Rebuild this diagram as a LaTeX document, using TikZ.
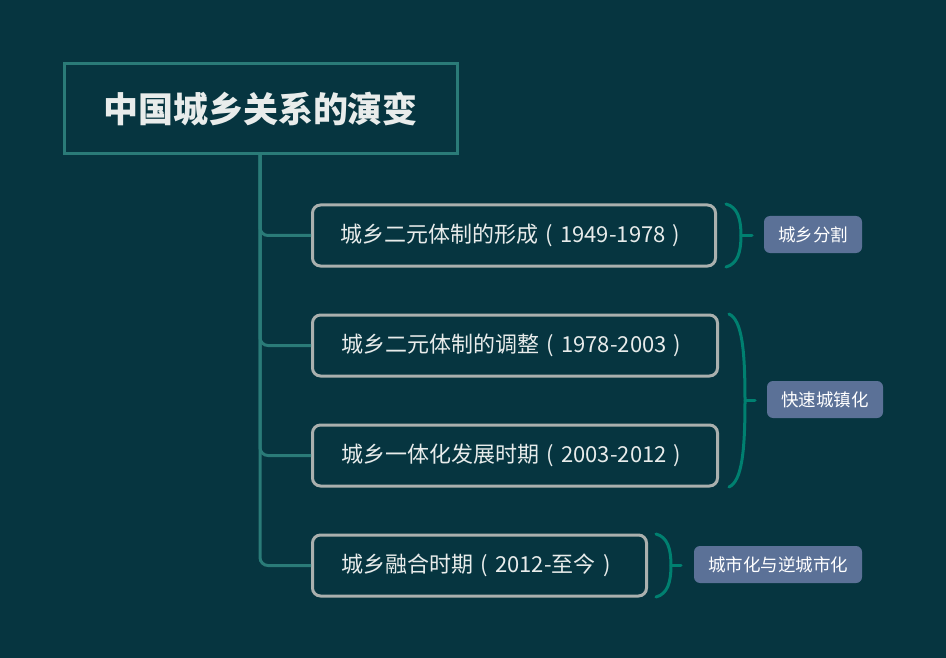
\documentclass[tikz,border=0pt]{standalone}
\usepackage{fontspec}
\setmainfont{Noto Sans CJK SC}
\definecolor{bgc}{RGB}{6,53,64}
\definecolor{titleb}{RGB}{42,123,120}
\definecolor{boxb}{RGB}{170,176,174}
\definecolor{bracec}{RGB}{0,128,112}
\definecolor{labf}{RGB}{91,113,151}
\definecolor{txt}{RGB}{232,236,235}
\newcommand\myLP{\makebox[1em][c]{(}}
\newcommand\myRP{\makebox[1em][c]{)}}
\tikzset{
  titlebox/.style={draw=titleb,line width=3pt,fill=bgc,minimum width=393pt,minimum height=90pt,inner sep=0pt,text=txt,font=\fontsize{35}{40}\selectfont\bfseries},
  stagebox/.style={draw=boxb,line width=3pt,fill=bgc,rounded corners=8pt,minimum height=61pt,inner sep=0pt,text=txt,font=\fontsize{22}{26}\selectfont,anchor=west},
  tagbox/.style={fill=labf,rounded corners=6pt,minimum height=37pt,inner sep=0pt,text=white,font=\fontsize{17.5}{20}\selectfont},
  trunk/.style={draw=titleb,line width=3pt,rounded corners=8pt},
  bracel/.style={draw=bracec,line width=3pt,line cap=round},
}
\begin{document}
\begin{tikzpicture}[x=1pt,y=-1pt]
\fill[bgc] (0,0) rectangle (946,658);
\useasboundingbox (0,0) rectangle (946,658);
\node[titlebox] (title) at (260.5,109) {中国城乡关系的演变};
\coordinate (t0) at (260,154);
\node[stagebox,minimum width=403pt] (b1) at (311,235.5) {城乡二元体制的形成\myLP1949-1978\myRP};
\node[stagebox,minimum width=405pt] (b2) at (311,345.5) {城乡二元体制的调整\myLP1978-2003\myRP};
\node[stagebox,minimum width=405pt] (b3) at (311,455.5) {城乡一体化发展时期\myLP2003-2012\myRP};
\node[stagebox,minimum width=334pt] (b4) at (311,565.5) {城乡融合时期\myLP2012-至今\myRP};
\draw[trunk] (t0) |- (b1.west);
\draw[trunk] (t0) |- (b2.west);
\draw[trunk] (t0) |- (b3.west);
\draw[trunk] (t0) |- (b4.west);
% braces
\coordinate (a1) at (726,204); \coordinate (c1) at (741,235.5); \coordinate (e1) at (726,267);
\coordinate (k1) at (752,235.5);
\draw[bracel] (a1) .. controls (738,207) and (741,220) .. (c1) .. controls (741,251) and (738,264) .. (e1);
\draw[bracel] (c1) -- (k1);
\coordinate (a2) at (729,314); \coordinate (c2) at (745,400.5); \coordinate (e2) at (729,487);
\coordinate (k2) at (755,400.5);
\draw[bracel] (a2) .. controls (742,320) and (745,350) .. (c2) .. controls (745,451) and (742,481) .. (e2);
\draw[bracel] (c2) -- (k2);
\coordinate (a3) at (656,534); \coordinate (c3) at (671,565.5); \coordinate (e3) at (656,597);
\coordinate (k3) at (681,565.5);
\draw[bracel] (a3) .. controls (668,537) and (671,550) .. (c3) .. controls (671,581) and (668,594) .. (e3);
\draw[bracel] (c3) -- (k3);
\node[tagbox,minimum width=98pt] (l1) at (813,234.5) {城乡分割};
\node[tagbox,minimum width=116pt] (l2) at (825,399.5) {快速城镇化};
\node[tagbox,minimum width=168pt] (l3) at (778,564.5) {城市化与逆城市化};
\end{tikzpicture}
\end{document}
